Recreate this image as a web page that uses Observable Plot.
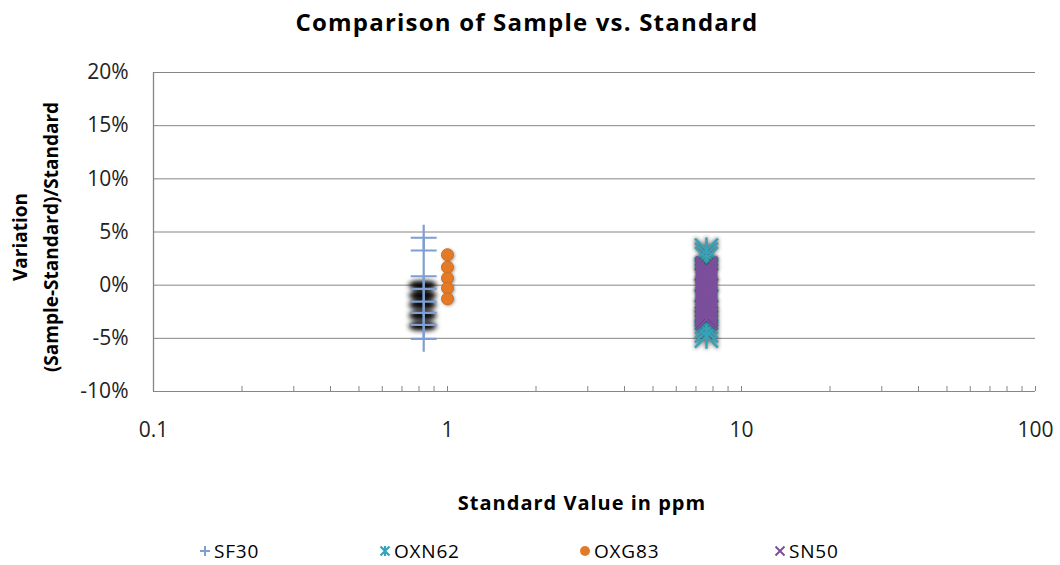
<!DOCTYPE html>
<html>
<head>
<meta charset="utf-8">
<script src="https://cdn.jsdelivr.net/npm/d3@7"></script>
<script src="https://cdn.jsdelivr.net/npm/@observablehq/plot@0.6"></script>
<style>
  body { margin: 0; background: #fff; font-family: "Open Sans", sans-serif; color: #000; }
  #wrap { position: relative; width: 1060px; height: 565px; overflow: hidden; background: #fff; }
  #title { position: absolute; left: 0; top: 0; width: 1054px; text-align: center; font-weight: bold; font-size: 24px; letter-spacing: 1.2px; line-height: 44px; }
  #chart { position: absolute; left: 0; top: 50px; }
  #ytitle { position: absolute; left: -134px; top: 206px; width: 340px; height: 62px; transform: rotate(-90deg); text-align: center; font-weight: bold; font-size: 19px; line-height: 31px; }
  #xtitle { position: absolute; left: 582px; top: 488px; transform: translateX(-50%); font-weight: bold; font-size: 20px; letter-spacing: 1px; line-height: 30px; white-space: nowrap; }
  #legend { position: absolute; left: 198px; top: 537px; height: 28px; display: flex; }
  .item { display: flex; align-items: center; font-size: 19px; letter-spacing: 0.8px; line-height: 28px; }
  .item svg { margin-right: 2px; }
</style>
</head>
<body>
<div id="wrap">
  <div id="title"></div>
  <div id="ytitle"></div>
  <div id="chart"></div>
  <div id="xtitle"></div>
  <div id="legend"></div>
</div>
<script>
// ---- text ----
const titleText = "Comparison of Sample vs. Standard";
const yTitleLines = ["Variation", "(Sample-Standard)/Standard"];
const xTitleText = "Standard Value in ppm";

// ---- axes ----
const xTicks = [0.1, 1, 10, 100];
const xTickLabels = ["0.1", "1", "10", "100"];
const yTicks = [-0.10, -0.05, 0, 0.05, 0.10, 0.15, 0.20];
const yTickLabels = ["-10%", "-5%", "0%", "5%", "10%", "15%", "20%"];

// ---- series ----
const seriesNames = ["SF30", "OXN62", "OXG83", "SN50"];
const seriesColors = ["#7f9fd2", "#35a3ba", "#e37a28", "#7b4f9c"];

const sf30Std = 0.83;
const sf30Var = [0.0446, 0.0326, 0.0084, -0.0034, -0.0154, -0.0260, -0.0373, -0.0505];
const sf30ShadowVar = [-0.0005, -0.0100, -0.0190, -0.0290, -0.0390];

const oxn62Std = 7.6;
const oxn62Var = [0.033, 0.029, 0.025, 0.015, 0.005, -0.005, -0.015, -0.025, -0.031, -0.035, -0.039, -0.043, -0.048];

const oxg83Std = 1.0;
const oxg83Var = [0.0286, 0.0169, 0.0066, -0.0028, -0.0128];

const sn50Std = 7.6;
const sn50Var = [0.017, 0.015, 0.013, 0.011, 0.009, 0.007, 0.005, 0.003, 0.001,
                 -0.001, -0.003, -0.005, -0.007, -0.009, -0.011, -0.013, -0.015, -0.017, -0.019,
                 -0.021, -0.023, -0.025, -0.027, -0.029, -0.032];

// Excel-like "star" marker: vertical bar plus an X
const starSymbol = {
  draw(ctx, size) {
    const r = Math.sqrt(size / Math.PI);
    const d = r * 0.92;
    ctx.moveTo(0, -r); ctx.lineTo(0, r);
    ctx.moveTo(-d, -d); ctx.lineTo(d, d);
    ctx.moveTo(-d, d); ctx.lineTo(d, -d);
  }
};

const gridColor = "#868686";
const minorTicks = d3.scaleLog().domain([0.1, 100]).ticks();
const yFmt = d => yTickLabels[yTicks.findIndex(t => Math.abs(t - d) < 1e-9)];
const xFmt = d => xTickLabels[xTicks.indexOf(d)];

const chart = Plot.plot({
  width: 1060,
  height: 470,
  marginLeft: 153,
  marginRight: 25,
  marginTop: 22,
  marginBottom: 129,
  style: { fontFamily: "Open Sans, sans-serif", color: "#222", background: "transparent", overflow: "visible" },
  x: { type: "log", domain: [0.1, 100], label: null },
  y: { domain: [-0.10, 0.20], label: null },
  marks: [
    Plot.ruleY(yTicks, { stroke: gridColor, strokeWidth: 1 }),
    Plot.ruleX([0.1], { stroke: gridColor, strokeWidth: 1.3 }),
    Plot.ruleX(minorTicks, { y1: -0.10, y2: -0.0953, stroke: gridColor, strokeWidth: 1 }),
    Plot.axisY(yTicks, { tickSize: 0, tickPadding: 25, tickFormat: yFmt, fontSize: 21, label: null }),
    Plot.axisX(xTicks, { tickSize: 0, tickPadding: 31, tickFormat: xFmt, fontSize: 21, label: null }),
    // SF30 marker shadows
    Plot.rect(sf30ShadowVar, {
      x1: () => sf30Std / 1.12, x2: () => sf30Std * 1.11,
      y1: d => d - 0.0042, y2: d => d + 0.0042,
      fill: "#000", rx: 10, ry: 5, imageFilter: "blur(2.5px)"
    }),
    Plot.dot(sf30Var, { x: () => sf30Std, y: d => d, symbol: "plus", r: 8.4, stroke: seriesColors[0], strokeWidth: 2.2, fill: "none" }),
    Plot.dot(oxn62Var, { x: () => oxn62Std, y: d => d, symbol: starSymbol, r: 12.5, stroke: seriesColors[1], strokeWidth: 2.4, fill: "none",
      imageFilter: "drop-shadow(0px 0px 2px rgba(0,0,0,0.75))" }),
    Plot.dot(oxg83Var, { x: () => oxg83Std, y: d => d, r: 6, fill: seriesColors[2], stroke: "#d36c1c", strokeWidth: 1,
      imageFilter: "drop-shadow(1px 1px 1.5px rgba(0,0,0,0.35))" }),
    Plot.dot(sn50Var, { x: () => sn50Std, y: d => d, symbol: "times", r: 9.6, stroke: seriesColors[3], strokeWidth: 2.2, fill: "none",
      imageFilter: "drop-shadow(0px 0px 1.5px rgba(0,0,0,0.7))" })
  ]
});
document.getElementById("chart").appendChild(chart);

document.getElementById("title").textContent = titleText;
document.getElementById("ytitle").innerHTML = yTitleLines.map(s => `<div>${s}</div>`).join("");
document.getElementById("xtitle").textContent = xTitleText;

// ---- legend ----
const legendShapes = [
  c => `<path d="M-5,0H5M0,-5V5" stroke="${c}" stroke-width="2" fill="none"/>`,
  c => `<path d="M0,-5V5M-4.5,-4.5L4.5,4.5M-4.5,4.5L4.5,-4.5" stroke="${c}" stroke-width="2.2" fill="none"/>`,
  c => `<circle r="5" fill="${c}"/>`,
  c => `<path d="M-4.5,-4.5L4.5,4.5M-4.5,4.5L4.5,-4.5" stroke="${c}" stroke-width="2" fill="none"/>`
];
const legendItemWidths = [180, 200, 195, 120];
const legend = document.getElementById("legend");
seriesNames.forEach((name, i) => {
  const item = document.createElement("div");
  item.className = "item";
  item.style.width = legendItemWidths[i] + "px";
  item.innerHTML = `<svg width="14" height="14" viewBox="-7 -7 14 14">${legendShapes[i](seriesColors[i])}</svg><span>${name}</span>`;
  legend.appendChild(item);
});
</script>
</body>
</html>
